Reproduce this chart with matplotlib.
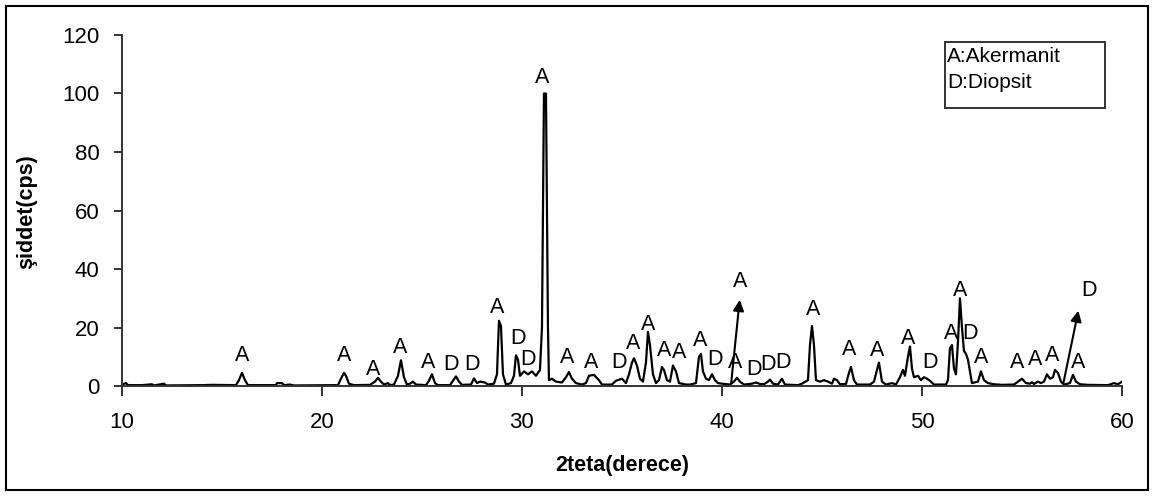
import matplotlib
matplotlib.use('Agg')
import matplotlib.pyplot as plt
from matplotlib.patches import Rectangle

plt.rcParams['font.family'] = ['Liberation Sans', 'DejaVu Sans']

# XRD deseni: 2teta ve şiddet (resimden okunan noktalar)
teta = [10.0, 10.2, 10.3, 11.0, 11.5, 11.6, 12.1, 12.2, 14.0, 14.5, 15.7, 15.85, 16.0, 16.15, 16.3,
        17.7, 17.75, 18.0, 18.1, 18.4, 18.6, 20.8, 20.95, 21.1, 21.2, 21.35, 21.6, 22.4, 22.65, 22.8,
        22.95, 23.1, 23.3, 23.4, 23.6, 23.8, 23.95, 24.1, 24.25, 24.4, 24.55, 24.7, 25.2, 25.35, 25.5,
        25.65, 25.8, 26.4, 26.55, 26.7, 26.85, 27.0, 27.45, 27.6, 27.75, 27.9, 28.15, 28.3, 28.6, 28.75,
        28.85, 28.95, 29.05, 29.2, 29.45, 29.6, 29.7, 29.8, 29.9, 30.1, 30.3, 30.5, 30.7, 30.9, 31.0,
        31.1, 31.2, 31.3, 31.35, 31.5, 31.7, 32.0, 32.2, 32.35, 32.5, 32.7, 33.0, 33.2, 33.35, 33.6,
        33.85, 34.0, 34.5, 34.7, 35.0, 35.2, 35.35, 35.5, 35.6, 35.75, 35.9, 36.05, 36.2, 36.3, 36.4,
        36.55, 36.7, 36.85, 37.0, 37.1, 37.25, 37.4, 37.55, 37.7, 37.85, 38.2, 38.4, 38.7, 38.85, 38.95,
        39.05, 39.2, 39.35, 39.5, 39.65, 39.8, 40.0, 40.4, 40.6, 40.75, 40.9, 41.1, 41.5, 41.7, 41.9,
        42.1, 42.3, 42.4, 42.55, 42.8, 43.0, 43.15, 43.8, 44.0, 44.3, 44.4, 44.5, 44.6, 44.7, 44.9,
        45.1, 45.3, 45.5, 45.6, 45.75, 45.9, 46.2, 46.35, 46.45, 46.6, 46.75, 47.4, 47.6, 47.75, 47.85,
        48.0, 48.2, 48.5, 48.7, 48.9, 49.05, 49.15, 49.3, 49.4, 49.5, 49.6, 49.8, 49.95, 50.1, 50.25,
        50.4, 50.6, 51.2, 51.3, 51.4, 51.5, 51.6, 51.7, 51.8, 51.9, 52.0, 52.1, 52.2, 52.3, 52.4,
        52.5, 52.8, 52.95, 53.1, 53.3, 53.6, 54.0, 54.6, 54.8, 55.0, 55.2, 55.4, 55.5, 55.6, 55.8,
        55.95, 56.1, 56.25, 56.4, 56.55, 56.65, 56.8, 56.95, 57.1, 57.4, 57.55, 57.7, 57.9, 58.3, 59.3,
        59.6, 59.8, 60.0]
siddet = [0.5, 1.0, 0.3, 0.3, 0.6, 0.2, 0.8, 0.2, 0.3, 0.4, 0.3, 2.0, 4.5, 2.0, 0.3,
          0.3, 1.0, 1.0, 0.3, 0.5, 0.2, 0.3, 2.5, 4.5, 3.5, 0.8, 0.3, 0.4, 1.5, 2.8,
          1.5, 0.5, 1.0, 0.3, 0.5, 3.5, 8.8, 3.0, 0.5, 0.8, 1.5, 0.5, 0.3, 1.8, 4.0,
          1.0, 0.3, 0.3, 1.8, 3.3, 1.5, 0.4, 0.5, 2.6, 1.0, 1.5, 1.2, 0.5, 0.8, 4.0,
          22.3, 20.5, 4.0, 0.5, 1.0, 3.5, 10.5, 9.0, 3.5, 5.0, 4.0, 5.0, 3.5, 5.5, 20.0,
          100.0, 100.0, 20.0, 2.0, 2.5, 1.5, 1.2, 3.0, 4.8, 2.5, 1.0, 0.5, 1.0, 3.5, 3.8,
          2.0, 0.5, 0.5, 1.8, 2.5, 1.0, 4.0, 8.0, 9.5, 7.0, 2.5, 1.5, 8.0, 18.5, 14.0,
          4.0, 1.0, 2.0, 6.5, 5.5, 2.0, 1.5, 7.0, 5.0, 1.0, 0.5, 0.5, 1.0, 10.0, 11.0,
          5.0, 2.5, 2.0, 4.0, 2.0, 1.0, 0.8, 0.5, 1.5, 2.8, 1.5, 0.5, 0.8, 1.2, 0.7,
          0.6, 1.5, 2.2, 0.8, 0.5, 2.5, 0.5, 0.3, 0.8, 2.0, 14.0, 20.5, 14.0, 2.0, 1.5,
          2.0, 1.5, 0.8, 2.5, 2.0, 0.6, 0.7, 4.5, 6.5, 2.0, 0.5, 0.5, 1.5, 5.5, 8.0,
          1.5, 0.5, 1.0, 0.5, 3.0, 5.5, 3.5, 10.0, 13.5, 6.0, 3.0, 3.5, 2.0, 3.0, 2.5,
          1.8, 0.5, 0.5, 2.0, 13.0, 14.0, 6.0, 4.0, 15.0, 30.0, 20.0, 12.0, 11.0, 9.0, 5.0,
          1.0, 1.5, 5.0, 2.0, 1.0, 0.6, 0.4, 0.5, 1.5, 2.5, 1.0, 0.8, 1.3, 0.7, 1.5,
          1.0, 1.5, 4.0, 2.5, 3.0, 5.5, 4.5, 1.5, 0.5, 1.0, 3.8, 1.5, 0.6, 0.4, 0.3,
          1.0, 0.6, 1.5]

# faz etiketleri (A: Akermanit, D: Diopsit)
etiket = ['A', 'A', 'A', 'A', 'A', 'D', 'D', 'A', 'D', 'D', 'A', 'A', 'A', 'D', 'A',
          'A', 'A', 'A', 'A', 'D', 'A', 'D', 'D', 'D', 'A', 'A', 'A', 'A', 'D', 'A',
          'A', 'D', 'A', 'A', 'A', 'A', 'A']
etiket_x = [16.0, 21.1, 22.55, 23.9, 25.3, 26.45, 27.5, 28.75, 29.8, 30.3, 31.0, 32.25, 33.45, 34.85, 35.55,
            36.3, 37.1, 37.85, 38.9, 39.65, 40.65, 41.6, 42.3, 43.05, 44.55, 46.35, 47.75, 49.3, 50.4, 51.45,
            51.9, 52.4, 52.95, 54.75, 55.65, 56.5, 57.8]
etiket_y = [10.6, 10.6, 5.5, 13.3, 8.2, 7.5, 7.5, 26.7, 16.4, 8.9, 105.3, 9.6, 7.9, 7.9, 14.7,
            20.9, 12.3, 11.6, 15.4, 8.9, 8.2, 5.5, 7.5, 8.2, 26.0, 12.6, 12.0, 16.1, 8.2, 18.1,
            32.8, 18.1, 9.9, 8.2, 9.2, 10.6, 8.2]

# oklu etiketler
ok_etiket = ['A', 'D']
ok_bas_x = [40.45, 57.05]
ok_uc_x = [40.9, 57.85]
ok_uc_y = [30.4, 26.7]
ok_yazi_x = [40.9, 58.35]
ok_yazi_y = [35.9, 32.8]

fig = plt.figure(figsize=(11.55, 4.97), dpi=100)
ax = fig.add_axes([0.1056, 0.2233, 0.8658, 0.7063])

ax.plot(teta, siddet, color='black', lw=1.6)

for t, x, y in zip(etiket, etiket_x, etiket_y):
    ax.text(x, y, t, ha='center', va='center', fontsize=15.5)

for t, x0, x1, y1, tx, ty in zip(ok_etiket, ok_bas_x, ok_uc_x, ok_uc_y, ok_yazi_x, ok_yazi_y):
    ax.annotate('', xy=(x1, y1), xytext=(x0, 0.3),
                arrowprops=dict(arrowstyle='-|>', color='black', lw=1.5, mutation_scale=16))
    ax.text(tx, ty, t, ha='center', va='center', fontsize=15.5)

ax.set_xlim(10, 60)
ax.set_ylim(0, 120)
ax.set_xticks([10, 20, 30, 40, 50, 60])
ax.set_yticks([0, 20, 40, 60, 80, 100, 120])
for s in ['top', 'right']:
    ax.spines[s].set_visible(False)
for s in ['left', 'bottom']:
    ax.spines[s].set_color('#333333')
    ax.spines[s].set_linewidth(1.4)
ax.tick_params(axis='y', direction='out', length=6, width=1.4, pad=10, labelsize=16, color='#333333')
ax.tick_params(axis='x', direction='out', length=7, width=1.4, pad=12, labelsize=16, color='#333333')

fig.text(27 / 1155, 1 - 212 / 497, 'şiddet(cps)', rotation=90, ha='center', va='center',
         fontsize=15.5, fontweight='bold')
fig.text(622 / 1155, 1 - 465 / 497, '2teta(derece)', ha='center', va='center',
         fontsize=15.5, fontweight='bold')

# açıklama kutusu
fig.patches.append(Rectangle((945 / 1155, 1 - 108 / 497), 160 / 1155, 66 / 497,
                             transform=fig.transFigure, fill=False, edgecolor='#333333', lw=1.4))
fig.text(947 / 1155, 1 - 57 / 497, 'A:Akermanit', ha='left', va='center', fontsize=15)
fig.text(947 / 1155, 1 - 83 / 497, 'D:Diopsit', ha='left', va='center', fontsize=15)

# dış çerçeve
fig.patches.append(Rectangle((6 / 1155, 1 - 490 / 497), 1142 / 1155, 484 / 497,
                             transform=fig.transFigure, fill=False, edgecolor='black', lw=1.5))

fig.savefig('out.png', dpi=100)
